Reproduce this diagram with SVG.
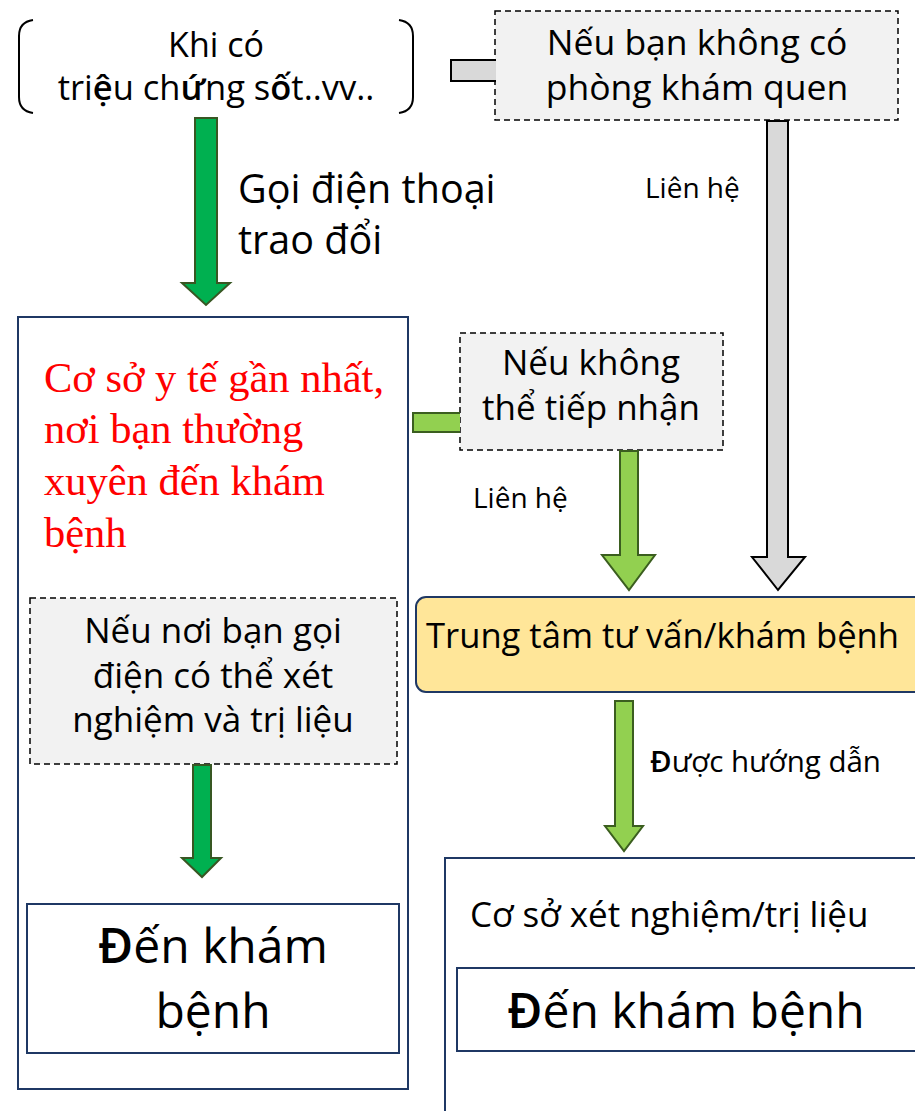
<svg xmlns="http://www.w3.org/2000/svg" width="915" height="1111" viewBox="0 0 915 1111">
<style>
text{font-family:"Open Sans","Noto Sans","DejaVu Sans",sans-serif;fill:#000}
.c{text-anchor:middle}
.red{font-family:"Liberation Serif","Times New Roman",serif;fill:#FF0000;font-size:42.5px}
.dash{fill:#F2F2F2;stroke:#000;stroke-width:1.5;stroke-dasharray:6 4}
.navy{fill:#fff;stroke:#1F3864;stroke-width:2}
.dg{fill:#00B050;stroke:#385723;stroke-width:2}
.lg{fill:#92D050;stroke:#3B5E1F;stroke-width:2}
.gr{fill:#D9D9D9;stroke:#000;stroke-width:2}
.b{font-weight:600}
</style>
<rect width="915" height="1111" fill="#fff"/>

<g id="node-symptom">
<path d="M33 20 Q19 22 19 36 L19 97 Q19 111 33 113" fill="none" stroke="#000" stroke-width="2"/>
<path d="M399 20 Q413 22 413 36 L413 97 Q413 111 399 113" fill="none" stroke="#000" stroke-width="2"/>
<text class="c" x="216" y="57" font-size="34">Khi có</text>
<text class="c" x="216" y="100" font-size="34.5">tri<tspan class="b">ệ</tspan>u ch<tspan class="b">ứ</tspan>ng s<tspan class="b">ố</tspan>t..vv..</text>
</g>

<g id="node-no-clinic">
<rect class="dash" x="495" y="11" width="403" height="109"/>
<text class="c" x="697" y="55" font-size="35.5">Nếu bạn không có</text>
<text class="c" x="697" y="100" font-size="35.5">phòng khám quen</text>
</g>

<g id="node-nearest">
<rect class="navy" x="18" y="317" width="390" height="772"/>
<text class="red" x="44" y="392">Cơ sở y tế gần nhất,</text>
<text class="red" x="44" y="443">nơi bạn thường</text>
<text class="red" x="44" y="495">xuyên đến khám</text>
<text class="red" x="44" y="547">bệnh</text>
</g>

<g id="node-can-test">
<rect class="dash" x="30" y="598" width="367" height="166"/>
<text class="c" x="213" y="643" font-size="35">Nếu nơi bạn gọi</text>
<text class="c" x="213" y="688" font-size="35">điện có thể xét</text>
<text class="c" x="213" y="732" font-size="35">nghiệm và trị liệu</text>
</g>

<g id="node-visit-left">
<rect class="navy" x="27" y="904" width="372" height="149"/>
<text class="c" x="213" y="963" font-size="48"><tspan class="b">Đ</tspan>ến khám</text>
<text class="c" x="213" y="1028" font-size="48">bệnh</text>
</g>

<g id="node-cannot-accept">
<rect class="dash" x="460" y="333" width="263" height="117"/>
<text class="c" x="591" y="375" font-size="35">Nếu không</text>
<text class="c" x="591" y="420" font-size="35">thể tiếp nhận</text>
</g>

<g id="node-center">
<rect x="416" y="597" width="520" height="95" rx="10" fill="#FFE699" stroke="#1F3864" stroke-width="2"/>
<text x="426" y="648" font-size="34.6">Trung tâm tư vấn/khám bệnh</text>
</g>

<g id="node-test-facility">
<rect class="navy" x="445" y="858" width="500" height="300"/>
<text x="470" y="927" font-size="35">Cơ sở xét nghiệm/trị liệu</text>
</g>

<g id="node-visit-right">
<rect class="navy" x="457" y="968" width="480" height="83"/>
<text class="c" x="686" y="1028" font-size="48"><tspan class="b">Đ</tspan>ến khám bệnh</text>
</g>

<g id="connectors">
<path class="gr" d="M496 60 H451 V81 H496"/>
<polygon class="gr" points="767,121 788,121 788,557 805,557 778,590 752,557 767,557"/>
<path class="lg" d="M460 413 H413 V432 H460"/>
<polygon class="dg" points="195,118 217,118 217,283 230,283 206,305 182,283 195,283"/>
<polygon class="lg" points="620,451 638,451 638,555 655,555 629,590 602,555 620,555"/>
<polygon class="dg" points="193,765 211,765 211,858 221,858 202,877 182,858 193,858"/>
<polygon class="lg" points="615,701 633,701 633,826 643,826 624,851 605,826 615,826"/>
<text x="238" y="203" font-size="39.5">Gọi điện thoại</text>
<text x="238" y="254" font-size="39.5">trao đổi</text>
<text x="645" y="198" font-size="28">Liên hệ</text>
<text x="473" y="508" font-size="28">Liên hệ</text>
<text x="650" y="772" font-size="29.5"><tspan class="b">Đ</tspan>ược hướng dẫn</text>
</g>
</svg>
